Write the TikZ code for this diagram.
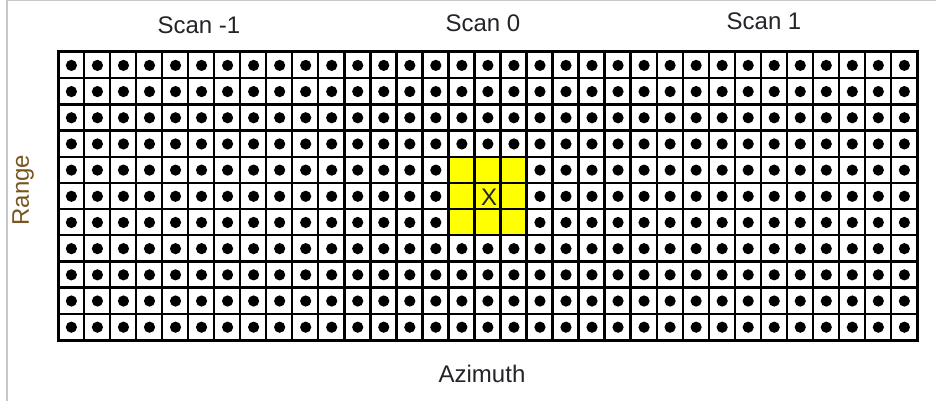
\documentclass[tikz,border=0pt]{standalone}
\usepackage{fontspec}
\setmainfont{Liberation Sans}
\usepackage{tikz}
\usetikzlibrary{calc}

\definecolor{inktext}{RGB}{35,35,40}
\definecolor{inkrange}{RGB}{120,85,30}
\definecolor{framegray}{RGB}{200,200,200}
\definecolor{hilite}{RGB}{255,255,0}

\begin{document}
\begin{tikzpicture}[x=1pt,y=-1pt,
    lbl/.style={font=\fontsize{24}{28}\selectfont,text=inktext,inner sep=0pt},
    cellline/.style={line width=2.3pt,black},
    scanline/.style={line width=3.6pt,black}]
    \useasboundingbox (0,0) rectangle (936,401);
    % frame
    \draw[framegray,line width=1.5pt] (7,401) -- (7,0.75) -- (936,0.75);
    % grid corners
    \coordinate (NW) at (58,52);
    \coordinate (SE) at (917,340);
    % highlighted neighbourhood
    \fill[hilite] ($(NW)+(15*26.03,4*26.18)$) rectangle ++(3*26.03,3*26.18);
    % dots
    \foreach \c in {0,...,32}{
      \foreach \r in {0,...,10}{
        \pgfmathtruncatemacro{\inside}{and(abs(\c-16)<2,abs(\r-5)<2)}
        \ifnum\inside=0
          \fill ($(NW)+(\c*26.03+13.4,\r*26.18+13.4)$) circle (5.6pt);
        \fi
      }
    }
    % cell lines
    \foreach \c in {1,...,32}
      \draw[cellline] ($(NW)+(\c*26.03,0)$) -- ++(0,288);
    \foreach \r in {1,...,10}
      \draw[cellline] ($(NW)+(0,\r*26.18)$) -- ++(859,0);
    \draw[scanline] ($(NW)+(11*26.03,0)$) -- ++(0,288);
    \draw[scanline] ($(NW)+(22*26.03,0)$) -- ++(0,288);
    \draw[line width=3pt] (NW) rectangle (SE);
    % labels
    \node[lbl] (cx) at (489,197) {X};
    \node[lbl,anchor=base] (scanm) at (199,34) {Scan -1};
    \node[lbl,anchor=base] (scanz) at (483,32) {Scan 0};
    \node[lbl,anchor=base] (scanp) at (764,30) {Scan 1};
    \node[lbl,anchor=base] (azim) at (482,382) {Azimuth};
    \node[lbl,text=inkrange,rotate=90] (range) at (23,190) {Range};
\end{tikzpicture}
\end{document}
